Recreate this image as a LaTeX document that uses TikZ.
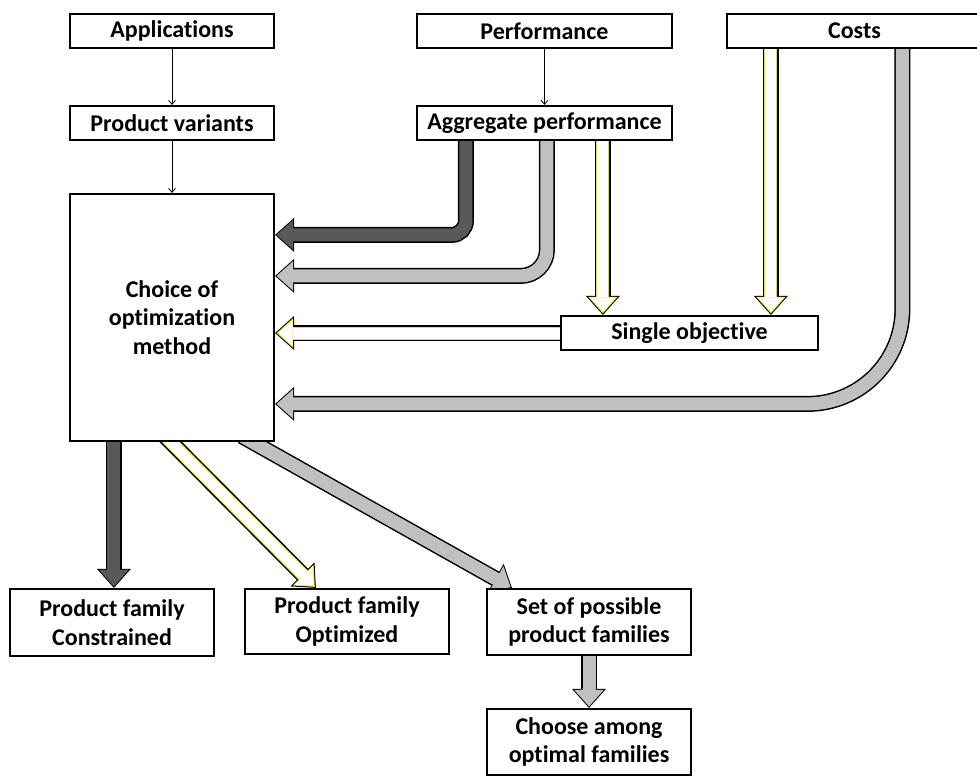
\documentclass[tikz,border=0pt]{standalone}
\usepackage{fontspec}
\setmainfont[Ligatures=NoCommon]{Carlito}
\usetikzlibrary{arrows.meta,calc,backgrounds}

\definecolor{darkfill}{HTML}{595959}
\definecolor{grayfill}{HTML}{C0C0C0}
\definecolor{edgeyellow}{HTML}{E6E600}

\tikzset{
  box/.style={draw, line width=2.2pt, fill=white, align=center, inner sep=0pt,
    minimum width=204pt, minimum height=34pt,
    font=\bfseries\fontsize{24}{28.5}\selectfont},
  thinarrow/.style={line width=0.8pt, -{Straight Barb[length=4pt,width=7pt]}},
}

% outlined block arrow: [options]{fill}{inner edge}{path}
\newcommand\blockarrow[4][]{%
  \draw[#1, line width=16pt, black, -{Triangle[length=19pt,width=34pt,line width=0pt]}] #4;
  \draw[#1, line width=13pt, #3, shorten >=1.5pt, -{Triangle[length=16.5pt,width=29.5pt,line width=0pt]}] #4;
  \draw[#1, line width=11pt, #2, shorten >=3pt, -{Triangle[length=14.5pt,width=26pt,line width=0pt]}] #4;
}

\begin{document}
\begin{tikzpicture}[x=1pt,y=-1pt]
  \useasboundingbox (0,0) rectangle (977,776);

  % top row
  \node[box] (app) at (172,31) {Applications};
  \node[box, minimum width=255pt] (perf) at (544.5,31) {Performance};
  \node[box, minimum width=255pt] (costs) at (854.5,31) {Costs};
  \node[box] (var) at (172,123) {Product variants};
  \node[box, minimum width=255pt] (agg) at (544.5,123) {Aggregate performance};

  % middle
  \node[box, minimum height=247pt] (choice) at (172,317.5) {Choice of\\optimization\\method};
  \node[box, minimum width=257pt] (single) at (689.5,333) {Single objective};

  % results
  \node[box, minimum height=67pt] (pfc) at (112,622.5) {Product family\\Constrained};
  \node[box, minimum height=65pt] (pfo) at (347,621.5) {Product family\\Optimized};
  \node[box, minimum height=66pt] (set) at (589,622) {Set of possible\\product families};
  \node[box, minimum height=66pt] (choose) at (589,742) {Choose among\\optimal families};

  \draw[thinarrow] (app) -- (var);
  \draw[thinarrow] (perf) -- (agg);
  \draw[thinarrow] (var) -- (choice);

  % arrow start points
  \coordinate (aggA) at ($(agg.south west)+(50,-4)$);
  \coordinate (aggB) at ($(agg.south west)+(131,-4)$);
  \coordinate (aggC) at ($(agg.south west)+(187,-4)$);
  \coordinate (costsA) at ($(costs.south west)+(45,-4)$);
  \coordinate (costsB) at ($(costs.south west)+(176.5,-4)$);
  \coordinate (outA) at ($(choice.south west)+(45,-6)$);
  \coordinate (outB) at ($(choice.south west)+(96,-6)$);
  \coordinate (outC) at ($(choice.south west)+(173,-6)$);

  \begin{scope}[on background layer]
    \blockarrow[rounded corners=14pt]{darkfill}{darkfill}{(aggA) |- ($(choice.north east)+(0,42)$)}
    \blockarrow[rounded corners=26pt]{grayfill}{grayfill}{(aggB) |- ($(choice.north east)+(0,83)$)}
    \blockarrow{white}{edgeyellow}{(aggC) -- (aggC |- single.north)}
    \blockarrow{white}{edgeyellow}{(costsA) -- (costsA |- single.north)}
    \blockarrow{white}{edgeyellow}{($(single.west)+(4,0)$) -- (single.west -| choice.east)}
    \blockarrow[rounded corners=95pt]{grayfill}{grayfill}{(costsB) |- ($(choice.north east)+(0,211)$)}

    \blockarrow{darkfill}{darkfill}{(outA) -- (outA |- pfc.north)}
    \blockarrow{white}{edgeyellow}{(outB) -- ($(pfo.north west)+(72,0)$)}
    \blockarrow{grayfill}{grayfill}{(outC) -- ($(set.north west)+(26,0)$)}
    \blockarrow{grayfill}{grayfill}{($(set.south)+(0,-4)$) -- (choose.north)}
  \end{scope}
\end{tikzpicture}
\end{document}
